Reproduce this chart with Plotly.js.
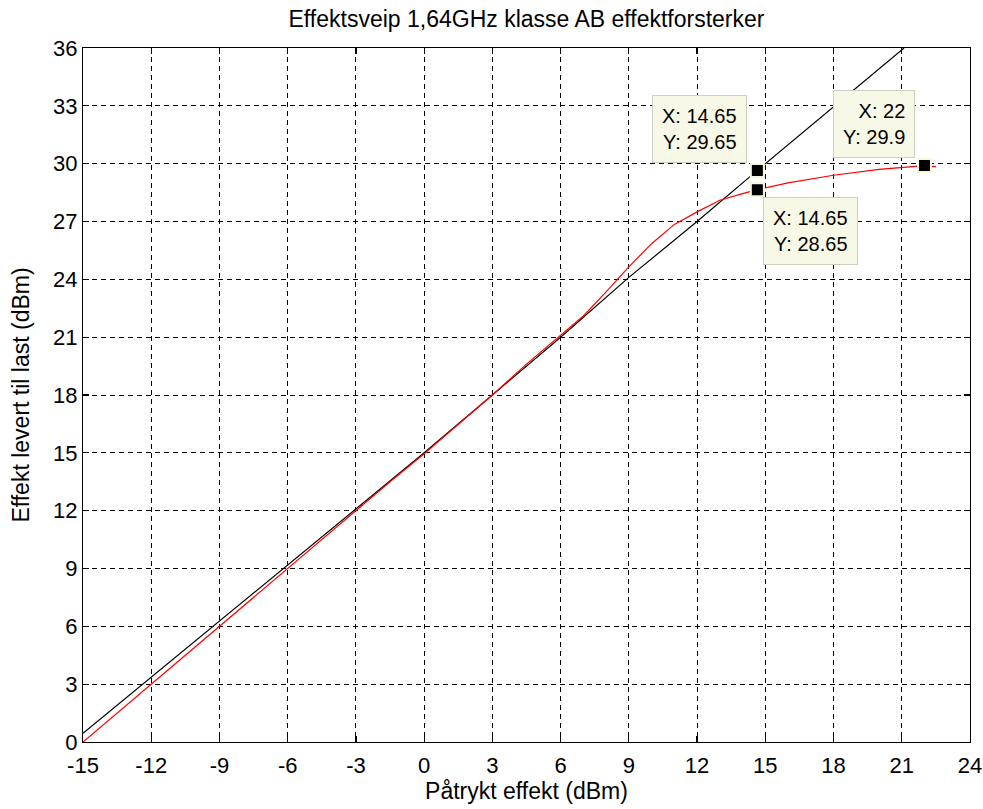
<!DOCTYPE html>
<html>
<head>
<meta charset="utf-8">
<script src="https://cdn.plot.ly/plotly-3.0.1.min.js"></script>
<style>html,body{margin:0;padding:0;background:#fff;}#chart{width:983px;height:809px;}</style>
</head>
<body>
<div id="chart"></div>
<script>
// Theoretical / linear reference (black)
const blackX = [-15, -12, -9, -6, -3, 0, 3, 6, 9, 12, 14.65, 21.1];
const blackY = [0.45, 3.35, 6.3, 9.2, 12.1, 15.0, 18.0, 21.0, 24.1, 27.0, 29.65, 36];

// Measured output power (red)
const redX = [-15, -13.5, -12, -10.5, -9, -7.5, -6, -4.5, -3, -1.5, 0, 1.5, 3, 4.5, 6, 7, 8, 9, 10, 11, 12, 13, 14, 14.65, 16, 18, 20, 22, 22.5];
const redY = [0, 1.5, 3.0, 4.5, 6.05, 7.55, 9.0, 10.5, 12.0, 13.5, 14.95, 16.45, 18.0, 19.6, 21.1, 22.1, 23.35, 24.65, 25.85, 26.85, 27.5, 28.1, 28.45, 28.65, 29.0, 29.4, 29.7, 29.9, 29.85];

// Data tips
const tipX = [14.65, 22, 14.65];
const tipY = [29.65, 29.9, 28.65];
const tipLabels = ["X: 14.65<br>Y: 29.65", "X: 22<br>Y: 29.9", "X: 14.65<br>Y: 28.65"];

const titleText = "Effektsveip 1,64GHz klasse AB effektforsterker";
const xTitle = "Påtrykt effekt (dBm)";
const yTitle = "Effekt levert til last (dBm)";
const tickVals = [-15, -12, -9, -6, -3, 0, 3, 6, 9, 12, 15, 18, 21, 24];
const yTickVals = [0, 3, 6, 9, 12, 15, 18, 21, 24, 27, 30, 33, 36];

const FONT = "Liberation Sans, Arial, sans-serif";

const traces = [
  {x: blackX, y: blackY, mode: "lines", line: {color: "#000000", width: 1.2}, hoverinfo: "skip"},
  {x: redX, y: redY, mode: "lines", line: {color: "#ff0000", width: 1.2}, hoverinfo: "skip"},
  {x: tipX, y: tipY, mode: "markers", marker: {symbol: "square", size: 13, color: "#000000", line: {color: "#f6f6dc", width: 2}}, hoverinfo: "skip"}
];

const tipPlacement = [
  {xanchor: "right", yanchor: "bottom", xshift: -10, yshift: 7},
  {xanchor: "right", yanchor: "bottom", xshift: -10, yshift: 8},
  {xanchor: "left", yanchor: "top", xshift: 6, yshift: -7}
];

const annotations = tipLabels.map((t, i) => Object.assign({
  x: tipX[i], y: tipY[i], xref: "x", yref: "y", text: t, showarrow: false,
  align: "right", bgcolor: "#f8f8e6", bordercolor: "#cfcfc4", borderwidth: 1, borderpad: 9,
  font: {family: FONT, size: 20, color: "#000"}
}, tipPlacement[i]));

const axisCommon = {
  showline: true, linecolor: "#000", linewidth: 1.2, mirror: "ticks",
  ticks: "inside", ticklen: 6, tickcolor: "#000", tickwidth: 1.2,
  showgrid: true, gridcolor: "#000", gridwidth: 1, griddash: "5px,4px",
  zeroline: false, tickfont: {family: FONT, size: 22, color: "#000"},
  tickmode: "array", fixedrange: true
};

const layout = {
  width: 983, height: 809,
  margin: {l: 83, r: 13, t: 48, b: 67},
  paper_bgcolor: "#ffffff", plot_bgcolor: "#ffffff",
  showlegend: false,
  title: {text: titleText, font: {family: FONT, size: 23, color: "#000"}, x: 0.5, xref: "paper", y: 1 - 19/809, yref: "container", yanchor: "middle"},
  xaxis: Object.assign({}, axisCommon, {range: [-15, 24], tickvals: tickVals, ticktext: tickVals.map(String),
    ticklabelstandoff: 3,
    title: {text: xTitle, font: {family: FONT, size: 23, color: "#000"}, standoff: 4}}),
  yaxis: Object.assign({}, axisCommon, {range: [0, 36], tickvals: yTickVals, ticktext: yTickVals.map(String),
    title: {text: yTitle, font: {family: FONT, size: 23, color: "#000"}, standoff: 16}}),
  annotations: annotations
};

Plotly.newPlot("chart", traces, layout, {staticPlot: true, displayModeBar: false});
</script>
</body>
</html>
